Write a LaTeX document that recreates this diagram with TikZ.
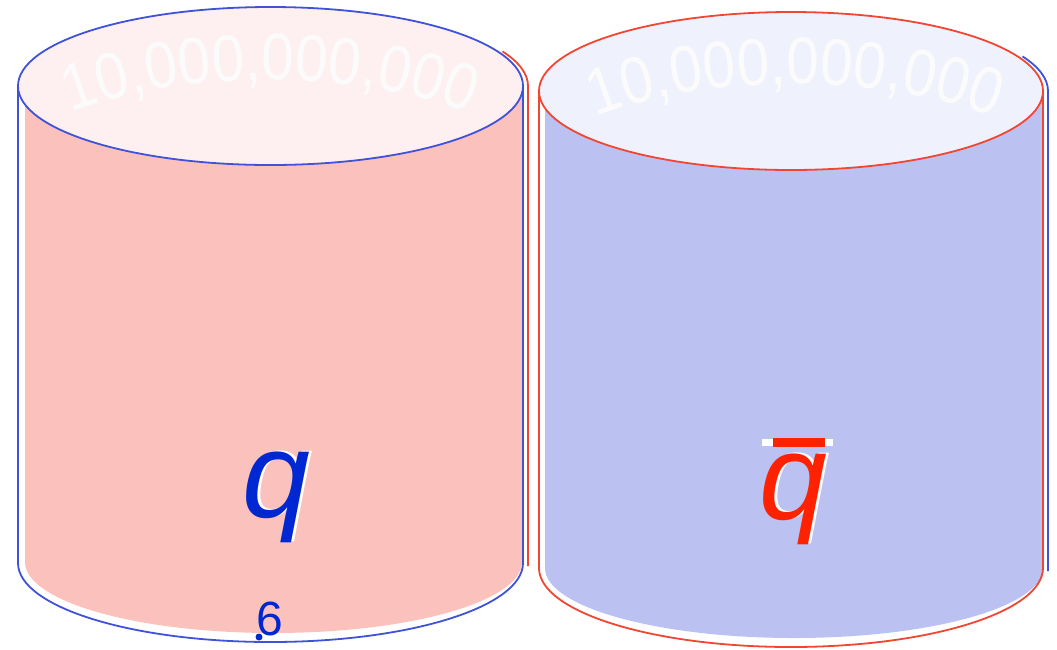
\documentclass[tikz,border=0pt]{standalone}
\usepackage{fontspec}
\setmainfont{Liberation Sans}
\newfontfamily\narrowsans[FakeStretch=0.885]{Liberation Sans}
\usetikzlibrary{decorations.text}
\definecolor{lineblue}{RGB}{64,82,216}
\definecolor{linered}{RGB}{240,70,50}
\definecolor{pinkbody}{RGB}{251,193,189}
\definecolor{pinktop}{RGB}{254,240,240}
\definecolor{bluebody}{RGB}{187,194,242}
\definecolor{bluetop}{RGB}{239,241,252}
\definecolor{qblue}{RGB}{0,40,210}
\definecolor{qred}{RGB}{255,34,0}
\definecolor{toptextcol}{RGB}{251,251,251}
\tikzset{
  outl/.style={line width=1.8pt},
  biglabel/.style={font=\fontsize{122}{122}\selectfont\itshape, inner sep=0pt, anchor=base},
  toptext/.style={decorate, decoration={text along path, text align=center, text color=toptextcol,
     text={|\fontsize{66}{70}\selectfont\narrowsans|10,000,000,000}}}
}
\begin{document}
\begin{tikzpicture}[x=1pt,y=1pt]
\useasboundingbox (0,0) rectangle (1057,-649);
% ---------- left cylinder ----------
\draw[linered, outl] (270.5+5,-86) ++(26:252.5 and 79) arc[start angle=26, end angle=0, x radius=252.5, y radius=79] -- (528,-566);
\fill[pinkbody] (25,-86) -- (25,-562) arc[start angle=180, end angle=360, x radius=248.5, y radius=71] -- (522,-86) -- cycle;
\draw[lineblue, outl] (18,-86) -- (18,-563) arc[start angle=180, end angle=360, x radius=252.5, y radius=79] -- (523,-86);
\draw[lineblue, outl, fill=pinktop] (270.5,-86) ellipse[x radius=252.5, y radius=79];
\path[toptext] (270,-200) ++(160:288 and 120) arc[start angle=160, end angle=20, x radius=288, y radius=120];
% ---------- right cylinder ----------
\draw[lineblue, outl] (791+5,-91) ++(26:252 and 79) arc[start angle=26, end angle=0, x radius=252, y radius=79] -- (1048,-571);
\fill[bluebody] (545,-91) -- (545,-568) arc[start angle=180, end angle=360, x radius=249, y radius=70] -- (1043,-91) -- cycle;
\draw[linered, outl] (539,-91) -- (539,-568) arc[start angle=180, end angle=360, x radius=252, y radius=79] -- (1043,-91);
\draw[linered, outl, fill=bluetop] (791,-91) ellipse[x radius=252, y radius=79];
\path[toptext] (795,-204) ++(160:288 and 120) arc[start angle=160, end angle=20, x radius=288, y radius=120];
% ---------- labels ----------
\node[biglabel, text=white] (qshadow) at (279,-516) {q};
\node[biglabel, text=qblue] (q) at (276,-517) {q};
\node[biglabel, text=white] (qbshadow) at (796,-518) {q};
\node[biglabel, text=qred] (qbar) at (793,-519) {q};
\fill[white] (762,-439) rectangle (833,-446);
\fill[qred] (773,-438) rectangle (825,-447);
\node[font=\fontsize{48}{48}\selectfont, text=qblue, inner sep=0pt, anchor=base] (six) at (270,-635) {6};
\fill[qblue] (259,-637) circle[radius=3.5];
\end{tikzpicture}
\end{document}
